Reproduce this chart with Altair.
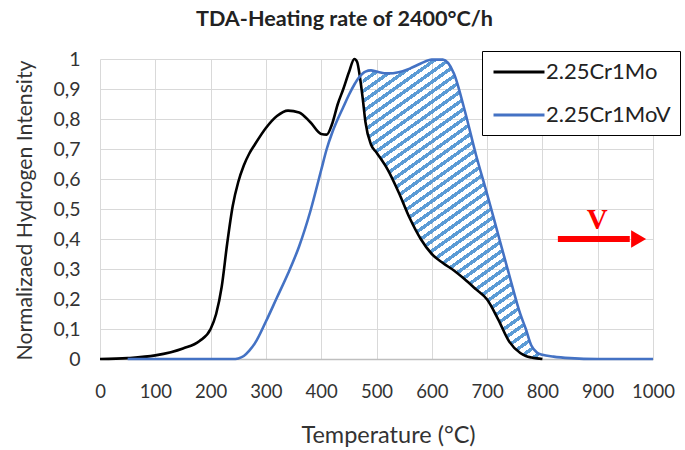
import altair as alt
import pandas as pd

# Temperature grid (°C) shared by both desorption curves
temps = [0, 50, 100, 150, 180, 200, 210, 220, 230, 240, 250, 260, 270, 280,
         300, 320, 340, 360, 380, 400, 410, 420, 430, 440, 450, 460, 465, 470,
         475, 480, 490, 500, 520, 540, 560, 580, 600, 620, 640, 660, 680, 700,
         720, 740, 760, 770, 780, 790, 800, 820, 850, 900, 950, 1000]

# Normalized hydrogen intensity, 2.25Cr1Mo steel
cr1mo = [0.0, 0.003, 0.012, 0.035, 0.06, 0.10, 0.15, 0.24, 0.385, 0.51, 0.59,
         0.645, 0.685, 0.715, 0.77, 0.81, 0.828, 0.822, 0.79, 0.75, 0.748,
         0.785, 0.85, 0.90, 0.955, 1.0, 0.99, 0.94, 0.87, 0.79, 0.715, 0.688,
         0.632, 0.556, 0.47, 0.40, 0.35, 0.32, 0.295, 0.265, 0.232, 0.198,
         0.132, 0.058, 0.02, 0.01, 0.005, 0.002, 0.0, None, None, None, None,
         None]

# Normalized hydrogen intensity, 2.25Cr1MoV steel
cr1mov = [None, 0.0, 0.0, 0.0, 0.0, 0.0, 0.0, 0.0, 0.0, 0.0, 0.002, 0.01,
          0.028, 0.052, 0.125, 0.205, 0.285, 0.375, 0.49, 0.63, 0.70, 0.755,
          0.80, 0.84, 0.88, 0.915, 0.93, 0.942, 0.952, 0.958, 0.962, 0.958,
          0.952, 0.956, 0.968, 0.985, 0.998, 0.998, 0.952, 0.825, 0.68, 0.55,
          0.415, 0.28, 0.15, 0.10, 0.045, 0.022, 0.014, 0.008, 0.003, 0.0,
          0.0, 0.0]

series_names = ["2.25Cr1Mo", "2.25Cr1MoV"]
series_colors = ["#000000", "#4472C4"]

x_ticks = list(range(0, 1001, 100))
y_ticks = [i / 10 for i in range(11)]

# Extra trapping range highlighted between the two curves
hatch_from, hatch_to = 475, 800

# "V" arrow annotation (data coordinates)
arrow_x = [828, 958]
arrow_head_x = 974
arrow_y = 0.40
label_v_x, label_v_y = 899, 0.464

rows = []
for name, vals in zip(series_names, [cr1mo, cr1mov]):
    for t, v in zip(temps, vals):
        if v is not None:
            rows.append({"T": t, "I": v, "steel": name})
curves = pd.DataFrame(rows)

band = pd.DataFrame([
    {"T": t, "low": a, "high": b}
    for t, a, b in zip(temps, cr1mo, cr1mov)
    if hatch_from <= t <= hatch_to and a is not None and b is not None
])

# diagonal stripe fill built from hard-edged gradient stops
n_stripes, duty = 43, 0.43
stops = []
for i in range(n_stripes):
    a = i / n_stripes
    b = (i + duty) / n_stripes
    c = (i + 1) / n_stripes
    stops += [
        {"offset": a, "color": "#5B9BD5"},
        {"offset": b, "color": "#5B9BD5"},
        {"offset": b, "color": "rgba(255,255,255,0)"},
        {"offset": c, "color": "rgba(255,255,255,0)"},
    ]
stripes = {"gradient": "linear", "x1": 0, "y1": 0, "x2": 0.517, "y2": 1.207,
           "stops": stops}

FONT = "Lato"
x_scale = alt.Scale(domain=[0, 1000], nice=False)
y_scale = alt.Scale(domain=[0, 1], nice=False)

x_axis = alt.Axis(values=x_ticks, format="d", labelOverlap=False,
                  labelFlush=False, title="Temperature (°C)",
                  ticks=False, labelPadding=23, labelFontSize=18.5,
                  labelFont=FONT, labelColor="#333333", titleFont=FONT,
                  titleFontSize=23.5, titleFontWeight="normal",
                  titleColor="#333333", titleX=288, titleY=76,
                  titleBaseline="middle", domainColor="#BFBFBF",
                  domainWidth=1.5, gridColor="#D9D9D9", gridWidth=1)
y_axis = alt.Axis(values=y_ticks, labelOverlap=False, labelFlush=False,
                  labelExpr="replace(format(datum.value, '.1~f'), '.', ',')",
                  title="Normalizaed Hydrogen Intensity", ticks=False,
                  labelPadding=20, labelFontSize=19.5, labelFont=FONT,
                  labelColor="#333333", titleFont=FONT, titleFontSize=21.2,
                  titleFontWeight="normal", titleColor="#333333",
                  titleX=-75, titleY=151, titleAngle=270,
                  titleBaseline="middle", titleAlign="center",
                  domain=False, gridColor="#D9D9D9", gridWidth=1)

X = alt.X("T:Q", scale=x_scale, axis=x_axis)

hatch = alt.Chart(band).mark_area(
    interpolate="monotone", color=stripes, strokeWidth=0
).encode(
    x=X,
    y=alt.Y("low:Q", scale=y_scale, axis=y_axis),
    y2="high:Q",
)

lines = alt.Chart(curves).mark_line(
    interpolate="monotone", strokeWidth=2.6
).encode(
    x=X,
    y=alt.Y("I:Q", scale=y_scale, axis=y_axis),
    color=alt.Color(
        "steel:N",
        scale=alt.Scale(domain=series_names, range=series_colors),
        legend=alt.Legend(
            orient="none", legendX=382, legendY=-8, title=None,
            symbolType="M-2.5,0H2.5", symbolSize=416, symbolStrokeWidth=3,
            symbolOffset=16, labelOffset=15,
            labelExpr="datum.label + '          '",
            labelFont=FONT, labelFontSize=22, labelColor="#222222",
            fillColor="white", strokeColor="#000000",
            padding=9, rowPadding=20,
        ),
    ),
    detail="steel:N",
)

arrow_df = pd.DataFrame({"x": [arrow_x[0]], "x2": [arrow_x[1]], "y": [arrow_y]})
shaft = alt.Chart(arrow_df).mark_rule(color="#FF0000", strokeWidth=6).encode(
    x=alt.X("x:Q", scale=x_scale, axis=x_axis), x2="x2:Q",
    y=alt.Y("y:Q", scale=y_scale, axis=y_axis))
head = alt.Chart(pd.DataFrame({"x": [arrow_head_x], "y": [arrow_y]})).mark_point(
    shape="triangle-right", filled=True, color="#FF0000", size=300, opacity=1
).encode(x=alt.X("x:Q", scale=x_scale, axis=x_axis),
         y=alt.Y("y:Q", scale=y_scale, axis=y_axis))
vtext = alt.Chart(pd.DataFrame({"x": [label_v_x], "y": [label_v_y], "t": ["V"]})).mark_text(
    font="Liberation Serif", fontWeight="bold", fontSize=29, color="#FF0000",
    baseline="middle", align="center"
).encode(x=alt.X("x:Q", scale=x_scale, axis=x_axis),
         y=alt.Y("y:Q", scale=y_scale, axis=y_axis), text="t:N")

chart = alt.layer(hatch, lines, shaft, head, vtext).properties(
    width=553, height=300,
    title=alt.Title("TDA-Heating rate of 2400°C/h", font=FONT, fontSize=21.6,
                    fontWeight="bold", color="#222222", anchor="middle",
                    dx=-32, offset=18),
    padding={"left": 100, "top": 59, "right": 32, "bottom": 91},
    autosize="none",
).configure_view(stroke=None)

chart.save("out.html", embed_options={"renderer": "svg", "actions": False})
